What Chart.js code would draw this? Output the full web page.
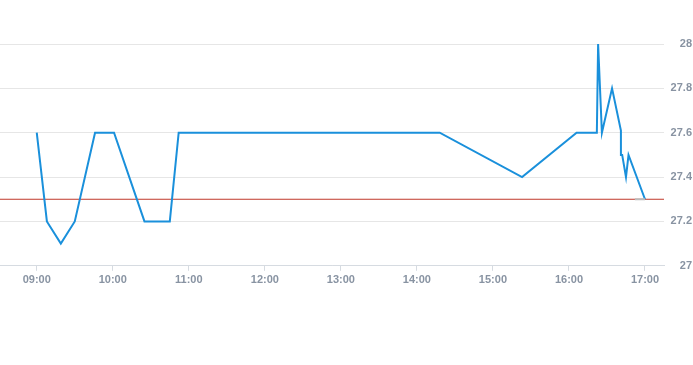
<!DOCTYPE html>
<html>
<head>
<meta charset="utf-8">
<script src="https://cdn.jsdelivr.net/npm/chart.js@4/dist/chart.umd.min.js"></script>
<style>
  html, body { margin: 0; padding: 0; background: #fff; }
  #wrap { position: relative; width: 693px; height: 290px; }
</style>
</head>
<body>
<div id="wrap"><canvas id="c"></canvas></div>
<script>
const times = ["09:00","09:08","09:19","09:30","09:46","10:01","10:25","10:45","10:52","14:18","15:23","16:06","16:22","16:23","16:26","16:34","16:41","16:41","16:42","16:45","16:47","17:00"];
const prices = [27.6,27.2,27.1,27.2,27.6,27.6,27.2,27.2,27.6,27.6,27.4,27.6,27.6,28.0,27.6,27.8,27.61,27.5,27.5,27.4,27.5,27.3];
const refLevel = 27.3;
const refTimes = ["08:31","17:15"];
const grayTimes = ["16:52","17:00"];
const xTickLabels = ["09:00","10:00","11:00","12:00","13:00","14:00","15:00","16:00","17:00"];
const yTicks = [27, 27.2, 27.4, 27.6, 27.8, 28];

function toH(s){ const [h,m] = s.split(":").map(Number); return h + m/60; }
function fmt(v){ const h = Math.floor(v + 1e-9); const m = Math.round((v-h)*60); return String(h).padStart(2,"0")+":"+String(m).padStart(2,"0"); }

const mainData = times.map((t,i)=>({x: toH(t), y: prices[i]}));
const refData = refTimes.map(t=>({x: toH(t), y: refLevel}));
const grayData = grayTimes.map(t=>({x: toH(t), y: refLevel}));

const labelFont = { family: "'Liberation Sans', Arial, sans-serif", size: 11, weight: "bold" };
const labelColor = "#8893a2";

new Chart(document.getElementById("c"), {
  type: "line",
  data: {
    datasets: [
      { data: grayData, borderColor: "#bcbcbc", borderWidth: 2, pointRadius: 0, tension: 0, order: 0 },
      { data: mainData, borderColor: "#1a90db", borderWidth: 2, pointRadius: 0, tension: 0, order: 1 },
      { data: refData, borderColor: "#c0392b", borderWidth: 1, pointRadius: 0, tension: 0, order: 2 }
    ]
  },
  options: {
    responsive: true,
    maintainAspectRatio: false,
    animation: false,
    layout: { padding: { top: 44, left: 0, right: 1, bottom: 0 } },
    plugins: { legend: { display: false }, tooltip: { enabled: false } },
    scales: {
      x: {
        type: "linear",
        min: toH(refTimes[0]),
        max: toH(refTimes[1]),
        afterBuildTicks: s => { s.ticks = xTickLabels.map(t => ({ value: toH(t) })); },
        ticks: { font: labelFont, color: labelColor, callback: v => fmt(v), maxRotation: 0, padding: 3 },
        grid: { drawOnChartArea: false, drawTicks: true, tickLength: 5, color: "#d6dbe1" },
        border: { display: true, color: "#d6dbe1" }
      },
      y: {
        position: "right",
        min: 27,
        max: 28,
        afterBuildTicks: s => { s.ticks = yTicks.map(v => ({ value: v })); },
        afterFit: s => { s.width = 28; },
        ticks: { font: labelFont, color: labelColor, crossAlign: "far", padding: 4, callback: v => String(Math.round(v*10)/10) },
        grid: { color: "#e6e6e6", drawTicks: false },
        border: { display: false }
      }
    }
  }
});
</script>
</body>
</html>
